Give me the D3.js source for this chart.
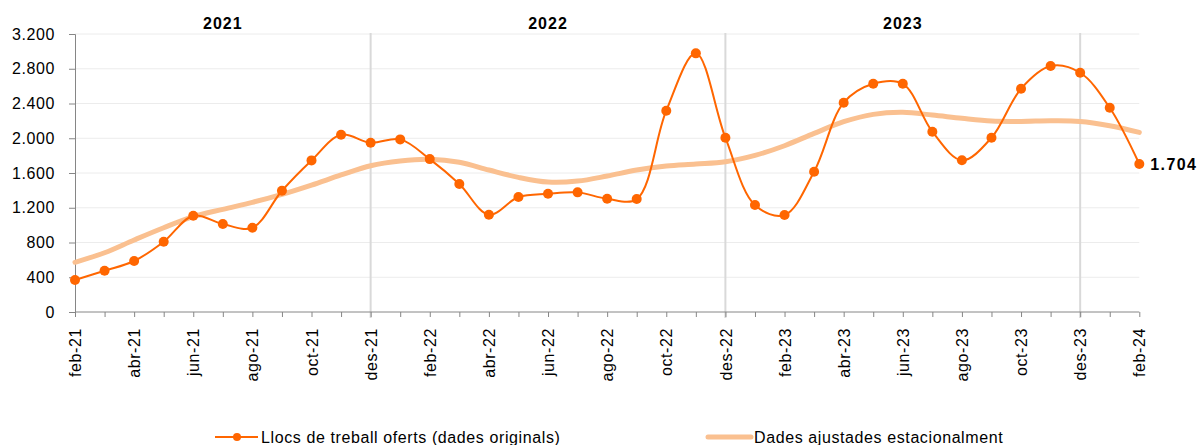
<!DOCTYPE html>
<html>
<head>
<meta charset="utf-8">
<script src="https://cdn.jsdelivr.net/npm/d3@7"></script>
<style>
  body { margin: 0; background: #fff; }
  text { font-family: "Liberation Sans", Arial, sans-serif; }
</style>
</head>
<body>
<div id="chart"></div>
<script>
// month labels (catalan), feb-21 .. feb-24
const months = [
  "feb-21","mar-21","abr-21","mai-21","jun-21","jul-21","ago-21","set-21","oct-21","nov-21","des-21",
  "gen-22","feb-22","mar-22","abr-22","mai-22","jun-22","jul-22","ago-22","set-22","oct-22","nov-22","des-22",
  "gen-23","feb-23","mar-23","abr-23","mai-23","jun-23","jul-23","ago-23","set-23","oct-23","nov-23","des-23",
  "gen-24","feb-24"
];

// Llocs de treball oferts (dades originals)
const original = [368, 475, 587, 809, 1108, 1013, 970, 1396, 1745, 2040, 1948,
  1987, 1760, 1473, 1120, 1323, 1361, 1377, 1304, 1300, 2317, 2977, 2006,
  1231, 1116, 1615, 2409, 2627, 2627, 2075, 1746, 2006, 2570, 2831, 2754,
  2351, 1704];

// Dades ajustades estacionalment
const adjusted = [572, 682, 829, 970, 1097, 1182, 1262, 1354, 1461, 1577, 1684,
  1738, 1757, 1723, 1634, 1550, 1496, 1507, 1565, 1634, 1680, 1703, 1730,
  1803, 1914, 2056, 2190, 2275, 2298, 2267, 2229, 2198, 2194, 2201, 2194,
  2144, 2068];

const yTicks = [0, 400, 800, 1200, 1600, 2000, 2400, 2800, 3200];
const years = ["2021", "2022", "2023"];
const yearSpans = [["feb-21", "des-21"], ["des-21", "des-22"], ["des-22", "des-23"]];
const separators = ["des-21", "des-22", "des-23"];
const seriesNames = ["Llocs de treball oferts (dades originals)", "Dades ajustades estacionalment"];

const W = 1201, H = 445;
const orange = "#ff6600", light = "#fac090";

const fmt = d3.formatLocale({ decimal: ",", thousands: ".", grouping: [3], currency: ["", ""] }).format(",d");

const svg = d3.select("#chart").append("svg")
  .attr("width", W).attr("height", H);

const x = d3.scalePoint().domain(months).range([75, 1139.3]);
const y = d3.scaleLinear().domain([0, 3200]).range([312, 34]);

// gridlines
svg.append("g")
  .selectAll("line")
  .data(yTicks.slice(1))
  .join("line")
  .attr("x1", x.range()[0]).attr("x2", x.range()[1])
  .attr("y1", d => y(d)).attr("y2", d => y(d))
  .attr("stroke", "#ececec").attr("stroke-width", 1);

// year separators
svg.append("g")
  .selectAll("line")
  .data(separators)
  .join("line")
  .attr("x1", d => x(d)).attr("x2", d => x(d))
  .attr("y1", y(3200) - 1).attr("y2", y(0) + 6)
  .attr("stroke", "#d9d9d9").attr("stroke-width", 2);

// y axis
const yAxis = svg.append("g")
  .attr("transform", `translate(${x.range()[0]},0)`)
  .call(d3.axisLeft(y).tickValues(yTicks).tickFormat(fmt).tickSize(6).tickPadding(14));
yAxis.select(".domain").attr("stroke", "#868686");
yAxis.selectAll(".tick line").attr("stroke", "#868686");
yAxis.selectAll(".tick text")
  .attr("font-size", 16).attr("fill", "#000")
  .style("letter-spacing", "0.6px")
  .style("font-family", "'Liberation Sans', Arial, sans-serif");

// x axis
const xAxis = svg.append("g")
  .attr("transform", `translate(0,${y(0)})`)
  .call(d3.axisBottom(x).tickSize(5).tickFormat((d, i) => i % 2 === 0 ? d : ""));
xAxis.select(".domain").attr("stroke", "#868686").attr("d", `M${x.range()[0]},0H${x.range()[1]}`);
xAxis.selectAll(".tick line").attr("stroke", "#868686");
xAxis.selectAll(".tick text")
  .attr("font-size", 16).attr("fill", "#000")
  .style("letter-spacing", "0.6px")
  .style("font-family", "'Liberation Sans', Arial, sans-serif")
  .attr("text-anchor", "end")
  .attr("transform", "rotate(-90)")
  .attr("x", -16).attr("y", 0).attr("dy", "0.35em");

// seasonally adjusted line
const curve = d3.curveCatmullRom.alpha(0.5);
const line = d3.line()
  .x((d, i) => x(months[i]))
  .y(d => y(d))
  .curve(curve);

svg.append("path")
  .datum(adjusted)
  .attr("d", line)
  .attr("fill", "none")
  .attr("stroke", light)
  .attr("stroke-width", 5)
  .attr("stroke-linecap", "round");

// original line
svg.append("path")
  .datum(original)
  .attr("d", line)
  .attr("fill", "none")
  .attr("stroke", orange)
  .attr("stroke-width", 2);

svg.append("g")
  .selectAll("circle")
  .data(original)
  .join("circle")
  .attr("cx", (d, i) => x(months[i]))
  .attr("cy", d => y(d))
  .attr("r", 5)
  .attr("fill", orange);

// last value label
const lastI = original.length - 1;
svg.append("text")
  .attr("x", x(months[lastI]) + 11)
  .attr("y", y(original[lastI]))
  .attr("dy", "0.35em")
  .attr("font-size", 16)
  .attr("font-weight", "bold")
  .style("letter-spacing", "1.4px")
  .text(d3.formatLocale({ decimal: ",", thousands: ".", grouping: [3], currency: ["", ""] }).format(",d")(original[lastI]));

// year labels
svg.append("g")
  .selectAll("text")
  .data(years)
  .join("text")
  .attr("x", (d, i) => (x(yearSpans[i][0]) + x(yearSpans[i][1])) / 2)
  .attr("y", 29)
  .attr("text-anchor", "middle")
  .attr("font-size", 16)
  .attr("font-weight", "bold")
  .style("letter-spacing", "1px")
  .text(d => d);

// legend
const legend = svg.append("g").attr("transform", "translate(0,437)");
const items = [
  { name: seriesNames[0], x0: 215, color: orange, w: 2, dot: true },
  { name: seriesNames[1], x0: 708, color: light, w: 5, dot: false }
];
items.forEach(it => {
  legend.append("line")
    .attr("x1", it.x0).attr("x2", it.x0 + 43)
    .attr("y1", 0).attr("y2", 0)
    .attr("stroke", it.color).attr("stroke-width", it.w)
    .attr("stroke-linecap", it.dot ? "butt" : "round");
  if (it.dot) {
    legend.append("circle")
      .attr("cx", it.x0 + 22).attr("cy", 0).attr("r", 4)
      .attr("fill", it.color);
  }
  legend.append("text")
    .attr("x", it.x0 + 46)
    .attr("y", 5.5)
    .attr("font-size", 16)
    .style("letter-spacing", "0.6px")
    .text(it.name);
});
</script>
</body>
</html>
